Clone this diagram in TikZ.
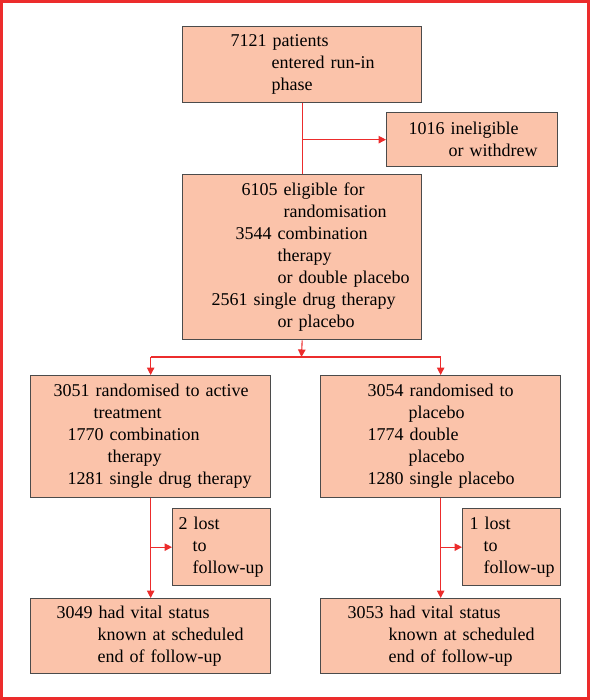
\documentclass[tikz,border=0pt]{standalone}
\usepackage{fontspec}
\setmainfont{Liberation Serif}
\usetikzlibrary{arrows.meta}
\definecolor{boxfill}{RGB}{251,195,170}
\definecolor{boxline}{RGB}{75,75,75}
\definecolor{linered}{RGB}{236,44,44}
\tikzset{
  box/.style={draw=boxline, fill=boxfill, line width=1.3pt, anchor=north west,
    inner sep=0pt, align=left, font=\fontsize{18}{22}\selectfont},
  conn/.style={draw=linered, line width=1.1pt},
  arr/.style={conn, -{Triangle[length=7.5pt,width=7.5pt]}},
}
\newcommand{\ind}[1]{\hspace*{#1pt}}
\begin{document}
\begin{tikzpicture}[x=1pt,y=-1pt]
\useasboundingbox (0,0) rectangle (590,700);
\draw[linered, line width=3.4pt] (1.7,1.7) rectangle (588.3,698.3);

\node[box, minimum width=239pt, minimum height=76pt, text width=239pt] (top) at (182,26)
  {\ind{48}7121 patients\\ \ind{89}entered run-in\\ \ind{89}phase};
\node[box, minimum width=171pt, minimum height=54pt, text width=171pt] (inel) at (386,112)
  {\ind{22}1016 ineligible\\ \ind{62}or withdrew};
\node[box, minimum width=239pt, minimum height=165pt, text width=239pt] (six) at (182,174)
  {\ind{59}6105 eligible for\\ \ind{101}randomisation\\ \ind{53}3544 combination\\
   \ind{95}therapy\\ \ind{95}or double placebo\\ \ind{29}2561 single drug therapy\\ \ind{95}or placebo};
\node[box, minimum width=240pt, minimum height=122pt, text width=240pt] (actv) at (30,375)
  {\ind{23}3051 randomised to active\\ \ind{63}treatment\\ \ind{37}1770 combination\\
   \ind{77}therapy\\ \ind{37}1281 single drug therapy};
\node[box, minimum width=240pt, minimum height=122pt, text width=240pt] (plac) at (320,375)
  {\ind{47}3054 randomised to\\ \ind{88}placebo\\ \ind{47}1774 double\\
   \ind{88}placebo\\ \ind{47}1280 single placebo};
\node[box, minimum width=98pt, minimum height=77pt, text width=98pt] (lostL) at (172,508)
  {\ind{6}2 lost\\ \ind{20}to\\ \ind{20}follow-up};
\node[box, minimum width=98pt, minimum height=77pt, text width=98pt] (lostR) at (462,508)
  {\ind{7}1 lost\\ \ind{21}to\\ \ind{21}follow-up};
\node[box, minimum width=240pt, minimum height=75pt, text width=240pt] (endL) at (30,598)
  {\ind{26}3049 had vital status\\ \ind{67}known at scheduled\\ \ind{67}end of follow-up};
\node[box, minimum width=240pt, minimum height=75pt, text width=240pt] (endR) at (320,598)
  {\ind{27}3053 had vital status\\ \ind{68}known at scheduled\\ \ind{68}end of follow-up};

\draw[conn] (top.south) -- (six.north);
\draw[arr] (top.south |- inel.west) -- (inel.west);
\coordinate (split) at (301.5,357);
\draw[arr] (six.south) -- (split);
\draw[conn] (split -| actv.north) -- (split -| plac.north);
\draw[arr] (split -| actv.north) -- (actv.north);
\draw[arr] (split -| plac.north) -- (plac.north);
\draw[arr] (actv.south) -- (endL.north);
\draw[arr] (actv.south |- lostL.west) -- (lostL.west);
\draw[arr] (plac.south) -- (endR.north);
\draw[arr] (plac.south |- lostR.west) -- (lostR.west);
\end{tikzpicture}
\end{document}
